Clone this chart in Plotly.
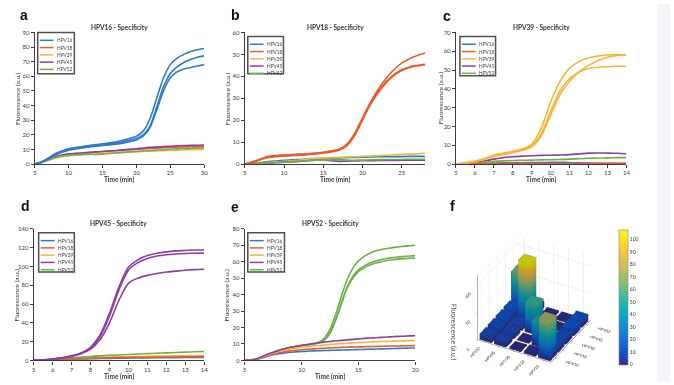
import plotly.graph_objects as go

W, H = 674, 385
def px(x): return x / W
def py(y): return 1 - y / H

SERIES = ['HPV16', 'HPV18', 'HPV39', 'HPV45', 'HPV52']
COLORS = {'HPV16': '#2f7ac6', 'HPV18': '#e95a2c', 'HPV39': '#f4b53a',
          'HPV45': '#8b3ea6', 'HPV52': '#6cb04a'}
FONT = 'Lato'
TXT = '#3a3a3a'

# ---------------- panel a : HPV16 - Specificity ----------------
t_a = [5, 6, 7, 8, 9, 10, 11, 12, 13, 14, 15, 16, 17, 18, 19, 20, 21, 22, 23, 24, 25, 26, 27, 28, 29, 30]
a_hpv16 = [
    [0, 1.5, 4, 7, 9, 10.5, 11.3, 12, 12.6, 13.3, 13.8, 14.5, 15.3, 16.3, 17.5, 19, 22.5, 31, 45, 59, 68, 72.5, 75, 77, 78.2, 79],
    [0, 1.3, 3.7, 6.5, 8.5, 10, 10.8, 11.5, 12.1, 12.7, 13.2, 13.8, 14.5, 15.3, 16.2, 17.5, 20, 26, 39, 53, 62, 66.5, 69.5, 71.5, 73, 74],
    [0, 1.3, 3.5, 6, 8, 9.5, 10.3, 11, 11.7, 12.2, 12.7, 13.1, 13.6, 14.3, 15.2, 16.5, 19, 25, 37, 50, 59, 63, 65, 66, 67, 68],
]
a_hpv18 = [0, 1.2, 3, 4.8, 5.8, 6.5, 7, 7.4, 7.8, 8.2, 8.5, 8.8, 9.1, 9.4, 9.7, 10, 10.3, 10.6, 10.9, 11.1, 11.3, 11.5, 11.7, 11.8, 11.9, 12]
a_hpv39 = [0, 1, 2.5, 4, 5, 5.6, 6, 6.3, 6.6, 6.9, 7.2, 7.5, 7.8, 8, 8.2, 8.4, 8.6, 8.8, 9, 9.2, 9.4, 9.5, 9.7, 9.8, 9.9, 10]
a_hpv45 = [0, 1.3, 3.2, 5, 6.2, 7, 7.3, 7.6, 8, 8.3, 8.6, 8.9, 9.3, 9.7, 10.1, 10.5, 11, 11.4, 11.7, 12, 12.2, 12.4, 12.6, 12.8, 12.9, 13]
a_hpv52 = [0, 1.1, 2.8, 4.5, 5.5, 6, 6.3, 6.6, 6.8, 6.5, 6.8, 7.2, 7.6, 8, 8.3, 8.6, 8.9, 9.2, 9.5, 9.8, 10.1, 10.4, 10.6, 10.8, 10.9, 11]

# ---------------- panel b : HPV18 - Specificity ----------------
t_b = [5, 6, 7, 8, 9, 10, 11, 12, 13, 14, 15, 16, 17, 18, 19, 20, 21, 22, 23, 24, 25, 26, 27, 28]
b_hpv18 = [
    [0, 1, 2.3, 3.5, 3.9, 4.1, 4.3, 4.5, 4.7, 5, 5.4, 6, 6.8, 9, 14, 21, 28, 34, 39, 43, 46, 48, 49.5, 50.6],
    [0, 0.9, 2.2, 3.3, 3.7, 3.9, 4.1, 4.3, 4.5, 4.8, 5.2, 5.8, 6.6, 8.6, 13.5, 20.5, 27.5, 33, 37.5, 40.8, 43, 44.3, 45, 45.5],
    [0, 0.8, 2, 3, 3.4, 3.6, 3.8, 4, 4.3, 4.6, 5, 5.5, 6.3, 8.3, 13, 20, 27, 32.5, 37, 40.3, 42.6, 44, 44.8, 45.3],
]
b_hpv16 = [0, 0.3, 0.7, 1.1, 1.4, 1.7, 1.9, 2.1, 2.3, 2.5, 2.6, 2.7, 2.8, 2.9, 3, 3.1, 3.2, 3.3, 3.3, 3.4, 3.4, 3.5, 3.5, 3.5]
b_hpv39 = [0, 0.2, 0.5, 0.8, 1, 1.2, 1.5, 1.8, 2.2, 2.5, 2.7, 2.9, 3.1, 3.2, 3.3, 3.5, 3.6, 3.8, 4, 4.2, 4.4, 4.5, 4.7, 4.9]
b_hpv45 = [0, 0.1, 0.3, 0.5, 0.6, 0.8, 1, 1.2, 1.5, 1.8, 1.9, 1.5, 1.2, 1.3, 1.4, 1.5, 1.5, 1.6, 1.6, 1.6, 1.7, 1.7, 1.7, 1.8]
b_hpv52 = [0, 0.1, 0.3, 0.5, 0.7, 0.9, 1.1, 1.3, 1.5, 1.7, 1.8, 1.9, 2, 1.8, 1.7, 1.8, 1.9, 2, 2, 2.1, 2.1, 2.2, 2.2, 2.3]

# ---------------- panel c : HPV39 - Specificity ----------------
t_c = [5, 5.5, 6, 6.5, 7, 7.5, 8, 8.5, 9, 9.5, 10, 10.5, 11, 11.5, 12, 12.5, 13, 13.5, 14]
c_hpv39 = [
    [0, 0.6, 1.6, 3, 4.8, 5.8, 6.8, 8, 10.5, 19, 33, 44, 51, 54.5, 56.5, 57.5, 58, 58.3, 58],
    [0, 0.5, 1.4, 2.7, 4.3, 5.4, 6.4, 7.5, 9.5, 16, 28, 39, 45.5, 49, 50.8, 51.5, 51.8, 52, 52],
    [0, 0.5, 1.3, 2.5, 4, 5.1, 6, 7.2, 9, 15, 26, 37, 44, 49, 52.5, 55, 56.8, 57.8, 58.2],
]
c_hpv16 = [0, 0.1, 0.3, 0.4, 0.5, 0.6, 0.7, 0.7, 0.8, 0.8, 0.9, 0.9, 0.8, 0.6, 0.5, 0.4, 0.4, 0.3, 0.3]
c_hpv18 = [0, 0.05, 0.1, 0.1, 0.2, 0.2, 0.2, 0.2, 0.3, 0.3, 0.3, 0.3, 0.3, 0.3, 0.4, 0.4, 0.4, 0.4, 0.4]
c_hpv45 = [0, 0.3, 0.8, 1.6, 2.6, 3.4, 3.9, 4.2, 4.4, 4.6, 4.7, 4.8, 5, 5.4, 5.8, 5.9, 5.8, 5.7, 5.5]
c_hpv52 = [0, 0.2, 0.6, 1, 1.4, 1.7, 1.9, 2, 2.1, 2.2, 2.3, 2.4, 2.6, 2.9, 3.1, 3.2, 3.3, 3.4, 3.4]

# ---------------- panel d : HPV45 - Specificity ----------------
t_d = [5, 5.5, 6, 6.5, 7, 7.5, 8, 8.5, 9, 9.5, 10, 10.5, 11, 11.5, 12, 12.5, 13, 13.5, 14]
d_hpv45 = [
    [0, 0.6, 1.5, 2.8, 4.8, 8, 14, 27, 50, 78, 99, 107, 111.5, 114, 115.5, 116.5, 117, 117.5, 117.5],
    [0, 0.6, 1.5, 2.7, 4.6, 7.6, 13, 25, 47, 75, 96, 104, 108.5, 111, 112.5, 113.3, 113.8, 114, 114.2],
    [0, 0.5, 1.3, 2.5, 4.2, 7, 12, 22, 40, 64, 82, 87.5, 90.5, 92.5, 94, 95, 96, 96.6, 97],
]
d_hpv16 = [0, 0.2, 0.5, 0.9, 1.2, 1.5, 1.8, 2, 2.2, 2.4, 2.5, 2.6, 2.7, 2.8, 2.9, 3, 3.1, 3.1, 3.2]
d_hpv18 = [0, 0.3, 0.7, 1.2, 1.6, 2, 2.3, 2.6, 2.8, 3, 3.2, 3.3, 3.4, 3.5, 3.6, 3.7, 3.8, 3.9, 4]
d_hpv39 = [0, 0.3, 0.8, 1.3, 1.8, 2.3, 2.7, 3, 3.3, 3.6, 3.9, 4.1, 4.3, 4.5, 4.7, 4.9, 5, 5.1, 5.2]
d_hpv52 = [0, 0.5, 1.2, 2, 2.8, 3.5, 4.2, 4.8, 5.3, 5.8, 6.3, 6.8, 7.2, 7.6, 8, 8.4, 8.8, 9.2, 9.5]

# ---------------- panel e : HPV52 - Specificity ----------------
t_e = [5, 5.5, 6, 6.5, 7, 7.5, 8, 8.5, 9, 9.5, 10, 10.5, 11, 11.5, 12, 12.5, 13, 13.5, 14, 14.5,
       15, 15.5, 16, 16.5, 17, 17.5, 18, 18.5, 19, 19.5, 20]
e_hpv52 = [
    [0, 0.2, 0.8, 2, 3.5, 4.8, 6, 7, 7.8, 8.5, 9, 9.5, 10, 11, 13.5, 19, 28, 39, 49, 56, 60.5, 63.3, 65.2, 66.5, 67.4, 68, 68.6, 69, 69.4, 69.7, 70],
    [0, 0.2, 0.8, 2, 3.5, 4.8, 6, 7, 7.8, 8.5, 9, 9.5, 10, 10.7, 12.5, 17, 25, 35, 44.5, 51, 55, 57.5, 59.2, 60.4, 61.3, 62, 62.5, 62.9, 63.2, 63.5, 63.7],
    [0, 0.2, 0.8, 1.9, 3.4, 4.7, 5.9, 6.9, 7.7, 8.4, 8.9, 9.4, 9.9, 10.6, 12.3, 16.5, 24.5, 34.5, 44, 50, 54, 56.3, 58, 59.2, 60, 60.7, 61.2, 61.6, 61.9, 62.1, 62.3],
]
e_hpv16 = [0, 0.2, 0.6, 1.5, 2.5, 3.4, 4.1, 4.6, 5, 5.2, 5.4, 5.6, 5.8, 5.9, 6, 6.1, 6.2, 6.3, 6.4, 6.5, 6.6, 6.7, 6.8, 6.9, 7, 7.1, 7.2, 7.3, 7.4, 7.5, 7.5]
e_hpv18 = [0, 0.2, 0.7, 1.7, 2.8, 3.8, 4.6, 5.3, 5.8, 6.2, 6.5, 6.8, 7, 7.2, 7.4, 7.6, 7.8, 7.9, 8, 8.1, 8.2, 8.3, 8.4, 8.5, 8.6, 8.7, 8.8, 8.8, 8.9, 8.9, 9]
e_hpv39 = [0, 0.2, 0.8, 2, 3.3, 4.5, 5.5, 6.3, 7, 7.5, 8, 8.4, 8.8, 9.1, 9.4, 9.7, 10, 10.2, 10.4, 10.6, 10.8, 11, 11.2, 11.3, 11.5, 11.6, 11.7, 11.8, 11.9, 12, 12.1]
e_hpv45 = [0, 0.2, 0.9, 2.2, 3.7, 5, 6.1, 7.1, 8, 8.6, 9.2, 9.7, 10.2, 10.7, 11.1, 11.5, 11.9, 12.2, 12.5, 12.8, 13.1, 13.4, 13.6, 13.8, 14, 14.2, 14.4, 14.6, 14.7, 14.9, 15]

# ---------------- panel f : 3D bar matrix ----------------
bar_x_labels = ['HPV52', 'HPV45', 'HPV39', 'HPV18', 'HPV16']
bar_y_labels = ['HPV16', 'HPV18', 'HPV39', 'HPV45', 'HPV52']
bar_values = [   # rows: bar_y_labels, columns: bar_x_labels
    [10, 9, 1, 3, 72],
    [11, 9, 1, 45, 12],
    [12, 10, 55, 2, 11],
    [13, 107, 6, 2, 13],
    [64, 11, 2, 2, 12],
]
colorbar_ticks = [0, 10, 20, 30, 40, 50, 60, 70, 80, 90, 100]

PARULA = [[0.0, '#352a87'], [0.12, '#0f5cdd'], [0.25, '#1485d4'], [0.37, '#06a7c6'],
          [0.5, '#38b99e'], [0.62, '#92bf73'], [0.75, '#d9ba56'], [0.87, '#fcce2e'],
          [1.0, '#f9fb0e']]

panels = [
    dict(n=1, letter='a', title='HPV16 - Specificity', t=t_a,
         curves={'HPV16': a_hpv16, 'HPV18': [a_hpv18], 'HPV39': [a_hpv39], 'HPV45': [a_hpv45], 'HPV52': [a_hpv52]},
         order=['HPV18', 'HPV39', 'HPV45', 'HPV52', 'HPV16'],
         box=(33, 204, 29, 163), xr=[5, 30], xd=5, yr=[0, 90], yd=10,
         leg=(36, 29, 73, 71), let=(22, 11.5), ytitle_x=15),
    dict(n=2, letter='b', title='HPV18 - Specificity', t=t_b,
         curves={'HPV16': [b_hpv16], 'HPV18': b_hpv18, 'HPV39': [b_hpv39], 'HPV45': [b_hpv45], 'HPV52': [b_hpv52]},
         order=['HPV16', 'HPV39', 'HPV45', 'HPV52', 'HPV18'],
         box=(245, 427, 29, 163), xr=[5, 28], xd=5, yr=[0, 60], yd=10,
         leg=(248, 33, 284, 71), let=(236, 11), ytitle_x=227),
    dict(n=3, letter='c', title='HPV39 - Specificity', t=t_c,
         curves={'HPV16': [c_hpv16], 'HPV18': [c_hpv18], 'HPV39': c_hpv39, 'HPV45': [c_hpv45], 'HPV52': [c_hpv52]},
         order=['HPV16', 'HPV45', 'HPV52', 'HPV18', 'HPV39'],
         box=(458, 630, 29, 163), xr=[5, 14], xd=1, yr=[0, 70], yd=10,
         leg=(462, 33, 498, 73), let=(448.5, 12.5), ytitle_x=442),
    dict(n=4, letter='d', title='HPV45 - Specificity', t=t_d,
         curves={'HPV16': [d_hpv16], 'HPV18': [d_hpv18], 'HPV39': [d_hpv39], 'HPV45': d_hpv45, 'HPV52': [d_hpv52]},
         order=['HPV16', 'HPV39', 'HPV52', 'HPV18', 'HPV45'],
         box=(32, 204, 229, 363), xr=[5, 14], xd=1, yr=[0, 140], yd=20,
         leg=(37, 233, 73, 273), let=(23.5, 206), ytitle_x=15),
    dict(n=5, letter='e', title='HPV52 - Specificity', t=t_e,
         curves={'HPV16': [e_hpv16], 'HPV18': [e_hpv18], 'HPV39': [e_hpv39], 'HPV45': [e_hpv45], 'HPV52': e_hpv52},
         order=['HPV52', 'HPV16', 'HPV18', 'HPV39', 'HPV45'],
         box=(245, 417, 229, 363), xr=[5, 20], xd=5, yr=[0, 80], yd=10,
         leg=(248, 233, 285, 273), let=(235.5, 206.5), ytitle_x=227),
]

fig = go.Figure()
shapes = []
annotations = []
layout_axes = {}

def ann(x, y, text, size, family=FONT, color=TXT, angle=0, xanchor='center'):
    return dict(x=px(x), y=py(y), xref='paper', yref='paper', text=text, textangle=angle,
                showarrow=False, xanchor=xanchor, yanchor='middle',
                font=dict(family=family, size=size, color=color))

for p in panels:
    n = p['n']
    sx = '' if n == 1 else str(n)
    xref, yref = 'x' + sx, 'y' + sx
    for name in p['order']:
        for reps in p['curves'][name]:
            fig.add_trace(go.Scatter(
                x=p['t'], y=reps, mode='lines', xaxis=xref, yaxis=yref,
                line=dict(color=COLORS[name], width=1.6, shape='spline', smoothing=0.8),
                showlegend=False, hoverinfo='skip'))
    x0, x1, y0, y1 = p['box']
    layout_axes['xaxis' + sx] = dict(
        domain=[px(x0), px(x1)], anchor=yref, range=p['xr'], dtick=p['xd'], tick0=5,
        showline=True, linecolor='#3c3c3c', linewidth=1.2, ticks='outside', ticklen=3,
        tickcolor='#3c3c3c', tickwidth=1, showgrid=False, zeroline=False,
        tickfont=dict(family=FONT, size=6, color=TXT))
    layout_axes['yaxis' + sx] = dict(
        domain=[py(y1), py(y0)], anchor=xref, range=p['yr'], dtick=p['yd'],
        showline=True, linecolor='#3c3c3c', linewidth=1.2, ticks='outside', ticklen=3,
        tickcolor='#3c3c3c', tickwidth=1, showgrid=False, zeroline=False,
        tickfont=dict(family=FONT, size=6, color=TXT))
    annotations.append(ann(p['ytitle_x'], (y0 + y1) / 2, 'Fluorescence (a.u.)', 6.5, angle=-90))
    annotations.append(ann((x0 + x1) / 2, y1 + 16, '<b>Time (min)</b>', 6.5))
    annotations.append(ann((x0 + x1) / 2, y0 - 5, '<b>' + p['title'] + '</b>', 6.5, color='#333333'))
    lx, ly = p['let']
    annotations.append(ann(lx, ly, '<b>' + p['letter'] + '</b>', 14, family='Liberation Sans', color='#111111'))
    # legend box (drawn manually to keep the compact Excel-style legend)
    bx0, by0, bx1, by1 = p['leg']
    shapes.append(dict(type='rect', xref='paper', yref='paper', x0=px(bx0), x1=px(bx1), y0=py(by1), y1=py(by0),
                       line=dict(color='#505050', width=1.5), fillcolor='white', layer='above'))
    for k, name in enumerate(SERIES):
        yy = by0 + 8 + k * 7.4
        shapes.append(dict(type='line', xref='paper', yref='paper', x0=px(bx0 + 2), x1=px(bx0 + 16),
                           y0=py(yy), y1=py(yy), line=dict(color=COLORS[name], width=1.5), layer='above'))
        annotations.append(ann(bx0 + 17, yy, name, 4.8, color='#444444', xanchor='left'))

# ---- 3D bars ----
bw = 0.8
vx, vy, vz, I, J, K = [], [], [], [], [], []
ex, ey, ez = [], [], []
faces = [(0, 1, 2), (0, 2, 3), (4, 5, 6), (4, 6, 7), (0, 1, 5), (0, 5, 4),
         (3, 2, 6), (3, 6, 7), (0, 3, 7), (0, 7, 4), (1, 2, 6), (1, 6, 5)]
edges = [(0, 1), (1, 2), (2, 3), (3, 0), (4, 5), (5, 6), (6, 7), (7, 4), (0, 4), (1, 5), (2, 6), (3, 7)]
for j, row in enumerate(bar_values):
    for i, h in enumerate(row):
        xa, xb = i - bw / 2, i + bw / 2
        ya, yb = j - bw / 2, j + bw / 2
        verts = [(xa, ya, 0), (xb, ya, 0), (xb, yb, 0), (xa, yb, 0),
                 (xa, ya, h), (xb, ya, h), (xb, yb, h), (xa, yb, h)]
        base = len(vx)
        for v in verts:
            vx.append(v[0]); vy.append(v[1]); vz.append(v[2])
        for f in faces:
            I.append(base + f[0]); J.append(base + f[1]); K.append(base + f[2])
        for e0, e1 in edges:
            ex += [verts[e0][0], verts[e1][0], None]
            ey += [verts[e0][1], verts[e1][1], None]
            ez += [verts[e0][2], verts[e1][2], None]

fig.add_trace(go.Mesh3d(
    x=vx, y=vy, z=vz, i=I, j=J, k=K, intensity=vz, colorscale=PARULA, cmin=0, cmax=108,
    flatshading=True, scene='scene', hoverinfo='skip',
    lighting=dict(ambient=0.8, diffuse=0.35, specular=0.05, roughness=1, fresnel=0),
    lightposition=dict(x=-100, y=-200, z=300),
    colorbar=dict(x=px(623), xanchor='left', y=py(298.5), yanchor='middle', len=137 / H,
                  thickness=9, tickvals=colorbar_ticks, ticks='', outlinewidth=0.6,
                  outlinecolor='#888888', tickfont=dict(family=FONT, size=5, color=TXT), xpad=0, ypad=0)))
fig.add_trace(go.Scatter3d(x=ex, y=ey, z=ez, mode='lines', scene='scene', hoverinfo='skip',
                           showlegend=False, line=dict(color='rgba(35,35,45,0.75)', width=1)))

ax3 = dict(showbackground=False, gridcolor='#e2e2e2', gridwidth=1, showline=True, linecolor='#666666',
           linewidth=1, zeroline=False, showspikes=False,
           tickfont=dict(family='Liberation Sans', size=7, color='#333333'), ticks='outside',
           ticklen=2, tickcolor='#555555')
scene = dict(
    domain=dict(x=[px(436.5), px(636.5)], y=[py(383.7), py(213.7)]),
    xaxis=dict(ax3, range=[-0.5, 4.5], tickvals=[0, 1, 2, 3, 4], ticktext=bar_x_labels, title=dict(text='')),
    yaxis=dict(ax3, range=[-0.5, 4.5], tickvals=[0, 1, 2, 3, 4], ticktext=bar_y_labels, title=dict(text='')),
    zaxis=dict(ax3, range=[0, 120], tickvals=[0, 50, 100],
               title=dict(text='Fluorescence (a.u.)', font=dict(family=FONT, size=7, color=TXT))),
    aspectmode='manual', aspectratio=dict(x=1, y=1, z=0.95),
    camera=dict(eye=dict(x=0.72, y=-1.33, z=1.05), center=dict(x=0, y=0, z=0),
                up=dict(x=0, y=0, z=1), projection=dict(type='orthographic')),
    bgcolor='rgba(0,0,0,0)')

annotations.append(ann(454.5, 206, '<b>f</b>', 14, family='Liberation Sans', color='#111111'))

shapes.append(dict(type='rect', xref='paper', yref='paper', x0=px(661), x1=1, y0=0, y1=1,
                   fillcolor='#f3f5f8', line=dict(width=0), layer='below'))

fig.update_layout(width=W, height=H, margin=dict(l=0, r=0, t=0, b=0), paper_bgcolor='white',
                  plot_bgcolor='white', showlegend=False, shapes=shapes, annotations=annotations,
                  scene=scene, **layout_axes)

fig.write_html('out.html', config={'displayModeBar': False},
               post_script="document.body.style.margin='0';document.body.style.overflow='hidden';")
